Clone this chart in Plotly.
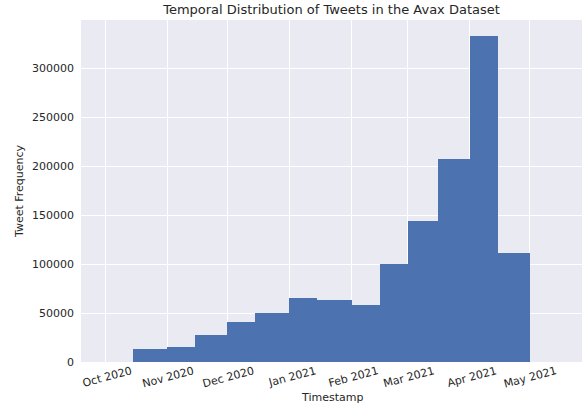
import plotly.graph_objects as go
import pandas as pd

# Semi-monthly bin start dates and tweet counts
bin_starts = ["2020-10-15", "2020-11-01", "2020-11-15", "2020-12-01", "2020-12-15",
              "2021-01-01", "2021-01-15", "2021-02-01", "2021-02-15", "2021-03-01",
              "2021-03-16", "2021-04-01", "2021-04-15"]
bin_end = "2021-05-01"
counts = [13700, 15700, 28000, 41200, 50000, 65700, 63300, 57900, 100000,
          143900, 206800, 332500, 111500]

x_tick_vals = ["2020-10-01", "2020-11-01", "2020-12-01", "2021-01-01", "2021-02-01",
               "2021-03-01", "2021-04-01", "2021-05-01"]
x_tick_text = ["Oct 2020", "Nov 2020", "Dec 2020", "Jan 2021", "Feb 2021",
               "Mar 2021", "Apr 2021", "May 2021"]
y_tick_vals = [0, 50000, 100000, 150000, 200000, 250000, 300000]

edges = pd.to_datetime(bin_starts + [bin_end])
widths = [(edges[i + 1] - edges[i]).total_seconds() * 1000 for i in range(len(bin_starts))]

font_family = "DejaVu Sans"
text_color = "#262626"

W, H = 585, 408
ML, MR, MT, MB = 81, 3, 20, 46
pw, ph = W - ML - MR, H - MT - MB

fig = go.Figure(go.Bar(
    x=bin_starts,
    y=counts,
    width=widths,
    offset=0,
    marker=dict(color="#4C72B0", line=dict(width=0)),
    showlegend=False,
    hoverinfo="skip",
))

fig.update_layout(
    width=W, height=H,
    margin=dict(l=ML, r=MR, t=MT, b=MB),
    paper_bgcolor="white",
    plot_bgcolor="#EAEAF2",
    font=dict(family=font_family, color=text_color, size=11),
    title=dict(text="Temporal Distribution of Tweets in the Avax Dataset",
               xref="paper", x=0.5, xanchor="center",
               yref="container", y=1 - 9 / H, yanchor="middle",
               font=dict(size=13, color=text_color)),
    bargap=0,
    annotations=[
        dict(text="Timestamp", xref="paper", yref="paper",
             x=0.5, y=(H - MB - 398) / ph,
             showarrow=False, font=dict(size=11, color=text_color),
             xanchor="center", yanchor="middle"),
        dict(text="Tweet Frequency", xref="paper", yref="paper",
             x=(19 - ML) / pw, y=(H - MB - 191) / ph,
             showarrow=False, font=dict(size=11, color=text_color),
             textangle=-90, xanchor="center", yanchor="middle"),
    ],
)

fig.update_xaxes(
    type="date",
    range=["2020-09-19", "2021-05-27"],
    tickvals=x_tick_vals,
    ticktext=x_tick_text,
    tickangle=-15,
    ticklabelshift=26,
    showgrid=True, gridcolor="white", gridwidth=1.2,
    zeroline=False, showline=False, ticks="",
    automargin=False,
    tickfont=dict(size=11),
)
fig.update_yaxes(
    range=[0, 349000],
    tickvals=y_tick_vals,
    tickformat="d",
    showgrid=True, gridcolor="white", gridwidth=1.2,
    zeroline=False, showline=False, ticks="",
    automargin=False,
    ticklabelstandoff=6,
    tickfont=dict(size=11),
)

fig.write_html("out.html", config={"displayModeBar": False},
               post_script="document.body.style.margin='0';")
